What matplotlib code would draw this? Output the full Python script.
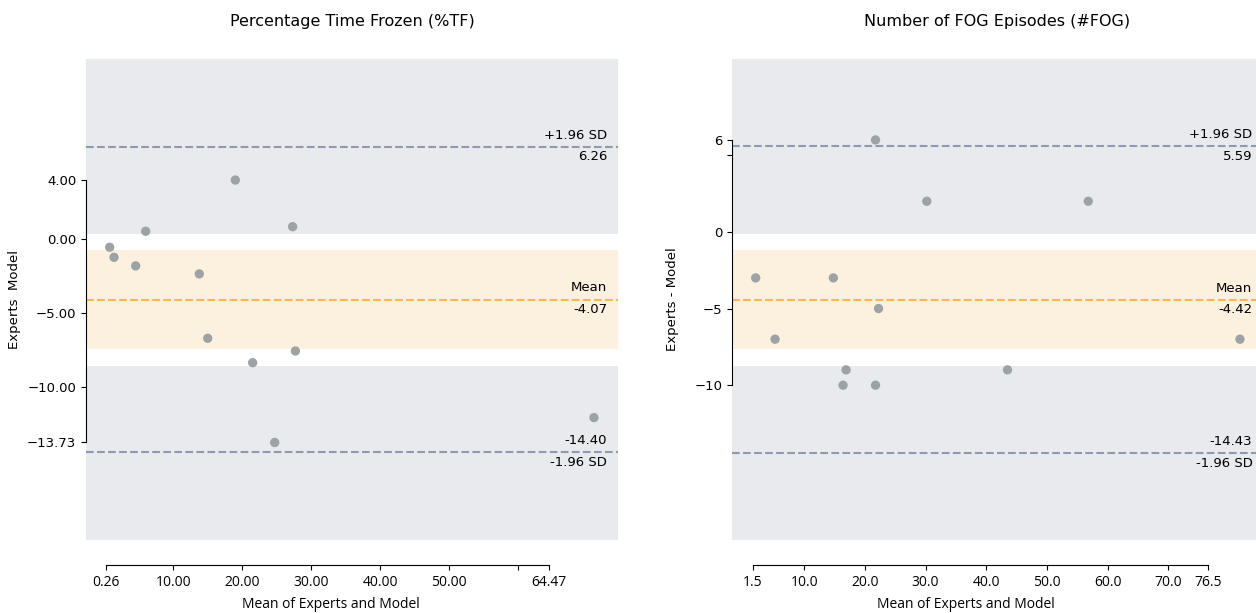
import matplotlib
matplotlib.use("Agg")
import matplotlib.pyplot as plt

# Percentage Time Frozen (%TF)
tf_avg = [0.78, 1.41, 4.55, 6.0, 13.77, 18.99, 14.99, 21.5, 24.7, 27.3, 27.7, 70.97]
tf_diff = [-0.54, -1.22, -1.80, 0.54, -2.34, 4.00, -6.69, -8.34, -13.73, 0.85, -7.55, -12.05]
tf_stats = {"mean": -4.07, "upper": 6.26, "lower": -14.40}
tf_ci = {"upper_lo": 0.36, "mean_hi": -0.72, "mean_lo": -7.41, "lower_hi": -8.54}
tf_xticks = [0.26, 10, 20, 30, 40, 50, 60, 64.47]
tf_xticklabels = ["0.26", "10.00", "20.00", "30.00", "40.00", "50.00", "", "64.47"]
tf_yticks = [4.0, 0.0, -5.0, -10.0, -13.73]
tf_yticklabels = ["4.00", "0.00", "\u22125.00", "\u221210.00", "\u221213.73"]

# Number of FOG Episodes (#FOG)
fog_avg = [2.0, 5.2, 14.8, 16.4, 16.9, 21.75, 21.75, 22.25, 30.2, 43.5, 56.8, 81.8]
fog_diff = [-3, -7, -3, -10, -9, 6, -10, -5, 2, -9, 2, -7]
fog_stats = {"mean": -4.42, "upper": 5.59, "lower": -14.43}
fog_ci = {"upper_lo": -0.13, "mean_hi": -1.17, "mean_lo": -7.63, "lower_hi": -8.72}
fog_xticks = [1.5, 10, 20, 30, 40, 50, 60, 70, 76.5]
fog_xticklabels = ["1.5", "10.0", "20.0", "30.0", "40.0", "50.0", "60.0", "70.0", "76.5"]
fog_yticks = [6, 5, 0, -5, -10]
fog_yticklabels = ["6", "", "0", "\u22125", "\u221210"]

GRAY_BAND = "#e9eaee"
MEAN_BAND = "#fcf0de"
MEAN_LINE = "#f5b856"
LOA_LINE = "#8e9aaf"
POINT = "#9da3a4"

fig = plt.figure(figsize=(12.56, 6.13), dpi=100)
ax1 = fig.add_axes([86 / 1256, 73 / 613, 532 / 1256, 481 / 613])
ax2 = fig.add_axes([732 / 1256, 73 / 613, 531 / 1256, 481 / 613])


def bland_altman(ax, avg, diff, stats, ci, ylim, xlim, xticks, xticklabels,
                 yticks, yticklabels, title, ylabel):
    ax.set_xlim(*xlim)
    ax.set_ylim(*ylim)

    # confidence bands
    ax.axhspan(ci["upper_lo"], ylim[1], color=GRAY_BAND, lw=0, zorder=0)
    ax.axhspan(ci["mean_lo"], ci["mean_hi"], color=MEAN_BAND, lw=0, zorder=0)
    ax.axhspan(ylim[0], ci["lower_hi"], color=GRAY_BAND, lw=0, zorder=0)

    ax.axhline(stats["upper"], color=LOA_LINE, ls="--", lw=1.5, zorder=1)
    ax.axhline(stats["lower"], color=LOA_LINE, ls="--", lw=1.5, zorder=1)
    ax.axhline(stats["mean"], color=MEAN_LINE, ls="--", lw=1.5, zorder=1)

    ax.scatter(avg, diff, s=45, color=POINT, edgecolors="none", zorder=2)

    tr = ax.get_yaxis_transform()
    kw = dict(xycoords=tr, textcoords="offset points", ha="right",
              va="center", fontsize=9.5, color="black")
    above, below = (0, 8.3), (0, -7.3)
    ax.annotate("+1.96 SD", (0.98, stats["upper"]), xytext=above, **kw)
    ax.annotate(f"{stats['upper']:.2f}", (0.98, stats["upper"]), xytext=below, **kw)
    ax.annotate("Mean", (0.98, stats["mean"]), xytext=above, **kw)
    ax.annotate(f"{stats['mean']:.2f}", (0.98, stats["mean"]), xytext=below, **kw)
    ax.annotate(f"{stats['lower']:.2f}", (0.98, stats["lower"]), xytext=above, **kw)
    ax.annotate("-1.96 SD", (0.98, stats["lower"]), xytext=below, **kw)

    for s in ["top", "right"]:
        ax.spines[s].set_visible(False)
    ax.spines["bottom"].set_position(("outward", 18))
    ax.spines["bottom"].set_bounds(xticks[0], xticks[-1])
    ax.spines["left"].set_bounds(min(yticks), max(yticks))

    ax.set_xticks(xticks)
    ax.set_xticklabels(xticklabels, fontsize=10, family="Open Sans")
    ax.set_yticks(yticks)
    ax.set_yticklabels(yticklabels, fontsize=9.5)

    ax.set_title(title, fontsize=11.5, pad=23.5)
    ax.set_ylabel(ylabel, fontsize=9.5)
    ax.set_xlabel("Mean of Experts and Model", fontsize=10, family="Open Sans")


bland_altman(ax1, tf_avg, tf_diff, tf_stats, tf_ci, (-20.32, 12.18), (-2.65, 74.45),
             tf_xticks, tf_xticklabels, tf_yticks, tf_yticklabels,
             "Percentage Time Frozen (%TF)", "Experts  Model")
bland_altman(ax2, fog_avg, fog_diff, fog_stats, fog_ci, (-20.1, 11.28), (-1.9, 85.6),
             fog_xticks, fog_xticklabels, fog_yticks, fog_yticklabels,
             "Number of FOG Episodes (#FOG)", "Experts - Model")

ax1.xaxis.set_label_coords(0.46, -0.118)
ax2.xaxis.set_label_coords(0.44, -0.118)
ax1.yaxis.set_label_coords(-0.122, 0.5)
ax2.yaxis.set_label_coords(-0.10, 0.5)

fig.savefig("out.png", dpi=100)
